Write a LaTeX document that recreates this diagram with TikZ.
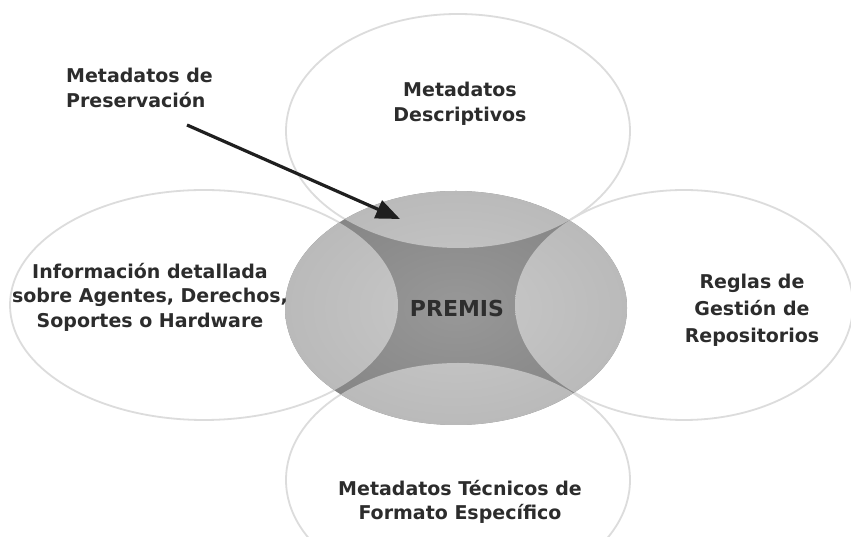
\documentclass[tikz,border=0pt]{standalone}
\usepackage{fontspec}
\setmainfont{DejaVu Sans}
\usepackage{xcolor}
\usepackage{tikz}
\usetikzlibrary{arrows.meta}

\definecolor{petalline}{HTML}{DCDCDC}
\definecolor{lenslight}{HTML}{C9C9C9}
\definecolor{lensdark}{HTML}{BABABA}
\definecolor{starlight}{HTML}{989898}
\definecolor{stardark}{HTML}{868686}
\definecolor{captiontext}{HTML}{2C2C2C}

\begin{document}
\begin{tikzpicture}[x=1pt, y=1pt, >={Triangle[length=24pt, width=19pt]},
    petal/.style={draw=petalline, line width=1.8pt},
    caption/.style={text=captiontext, font=\fontsize{19}{24.5}\selectfont\bfseries, align=center, inner sep=0pt}]
    \useasboundingbox[fill=white] (0,0) rectangle (851,537);

    \draw[petal] (458,406) ellipse [x radius=172, y radius=117];
    \draw[petal] (458,57) ellipse [x radius=172, y radius=117];
    \draw[petal] (204,232) ellipse [x radius=194, y radius=115];
    \draw[petal] (684,232) ellipse [x radius=169, y radius=115];

    \begin{scope}
        \clip (456,229) ellipse [x radius=171, y radius=117];
        \shade[inner color=starlight, outer color=stardark] (456,229) ellipse [x radius=171, y radius=117];
        \foreach \cx/\cy/\rx/\ry in {458/406/172/117, 458/57/172/117, 204/232/194/115, 684/232/169/115} {
            \begin{scope}
                \clip (\cx,\cy) ellipse [x radius=\rx, y radius=\ry];
                \shade[inner color=lenslight, outer color=lensdark] (456,229) ellipse [x radius=171, y radius=117];
            \end{scope}
        }
    \end{scope}

    \node[caption, font=\fontsize{22}{26}\selectfont\bfseries, text=black!82] (premis) at (457,229) {PREMIS};
    \node[caption] (descrip) at (460,433) {Metadatos\\Descriptivos};
    \node[caption] (agentes) at (150,240) {Información detallada\\sobre Agentes, Derechos,\\Soportes o Hardware};
    \node[caption, font=\fontsize{19}{27}\selectfont\bfseries] (reglas) at (752,227) {Reglas de\\Gestión de\\Repositorios};
    \node[caption] (tecnicos) at (460,35) {Metadatos Técnicos de\\Formato Específico};
    \node[caption, align=left, anchor=west] (preserv) at (66,449) {Metadatos de\\Preservación};

    \coordinate (tail) at (187,412);
    \coordinate (tip) at (400,318);
    \draw[->, line width=3.2pt, black!88] (tail) -- (tip);
\end{tikzpicture}
\end{document}
